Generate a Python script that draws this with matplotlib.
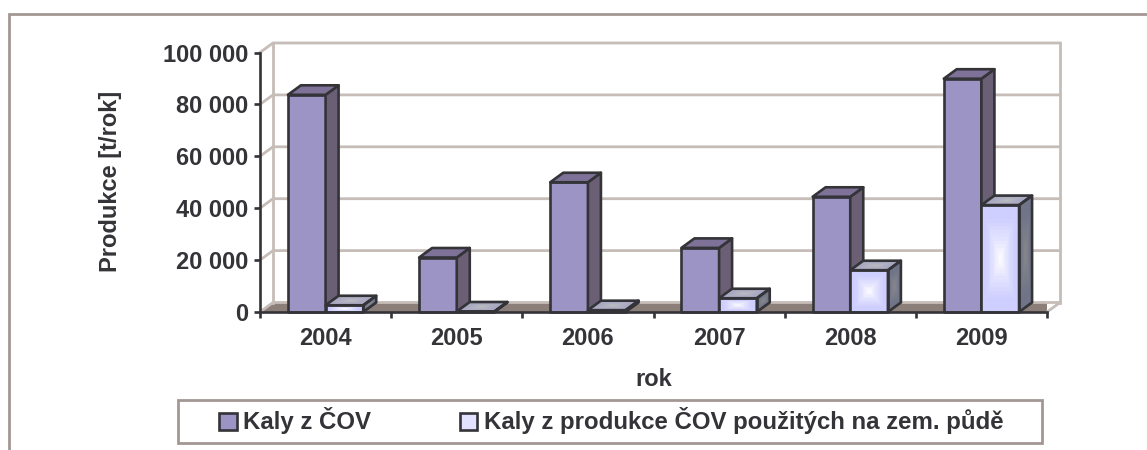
import numpy as np
import matplotlib
matplotlib.use("Agg")
import matplotlib.pyplot as plt
from matplotlib.lines import Line2D
from matplotlib.patches import Polygon, Rectangle, Patch
from matplotlib.colors import to_rgb

years = ["2004", "2005", "2006", "2007", "2008", "2009"]
kaly_cov = [83700, 21000, 50000, 24700, 44400, 89900]
kaly_puda = [2600, 200, 700, 5300, 16100, 41200]
y_ticks = [0, 20000, 40000, 60000, 80000, 100000]
y_tick_labels = ["0", "20 000", "40 000", "60 000", "80 000", "100 000"]
series_names = ["Kaly z ČOV", "Kaly z produkce ČOV použitých na zem. půdě"]

W, H = 1147, 450
plt.rcParams["font.family"] = ["Liberation Sans", "DejaVu Sans"]
plt.rcParams["font.weight"] = "bold"
TXT = "#333338"
EDGE = "#333338"
FS = 17
fig = plt.figure(figsize=(W / 100, H / 100), dpi=100, facecolor="white")
ax = fig.add_axes([260 / W, 1 - 312 / H, (1047 - 260) / W, (312 - 52.5) / H])
ax.set_xlim(0, 6)
ax.set_ylim(0, 100000)
ax.patch.set_visible(False)
for s in ax.spines.values():
    s.set_visible(False)

DX, DY = 13 / (787 / 6), 9.5 / (259.5 / 100000)
BW = 0.287
GRID = "#C6BCB8"
GLW = 2.0
ELW = 1.9

# walls and floor
ax.add_patch(Polygon([(0, 0), (6, 0), (6 + DX, DY), (DX, DY)], closed=True, fc="#8C7F7A", ec="none", zorder=1))
ax.plot([6, 6 + DX], [0, DY], color=GRID, lw=GLW, zorder=1, clip_on=False)
for v in y_ticks:
    ax.plot([0, DX, 6 + DX], [v, v + DY, v + DY], color=GRID, lw=GLW, zorder=1, clip_on=False,
            solid_joinstyle="miter")
ax.plot([DX, DX], [DY, 100000 + DY], color=GRID, lw=GLW, zorder=1, clip_on=False)
ax.plot([6 + DX, 6 + DX], [DY, 100000 + DY], color=GRID, lw=GLW, zorder=1, clip_on=False)


def shaded(corners, outer, inner, z, power=0.8):
    """Quadrilateral with a box gradient, corners: BL, BR, TR, TL."""
    n = 30
    bl, br, tr, tl = [np.array(c, float) for c in corners]
    s, t = np.meshgrid(np.linspace(0, 1, n + 1), np.linspace(0, 1, n + 1))
    X = (1 - t) * ((1 - s) * bl[0] + s * br[0]) + t * ((1 - s) * tl[0] + s * tr[0])
    Y = (1 - t) * ((1 - s) * bl[1] + s * br[1]) + t * ((1 - s) * tl[1] + s * tr[1])
    c = np.linspace(-1, 1, n)
    u, v = np.meshgrid(c, c)
    m = np.clip(np.maximum(abs(u), abs(v)) ** power * 1.25, 0, 1)[..., None]
    C = (1 - m) * np.array(to_rgb(inner)) + m * np.array(to_rgb(outer))
    ax.pcolormesh(X, Y, C, shading="flat", zorder=z, clip_on=False, linewidth=0, rasterized=True)


def bar3d(x0, val, z, front, side, top, grad=False):
    x1 = x0 + BW
    f = [(x0, 0), (x1, 0), (x1, val), (x0, val)]
    sd = [(x1, 0), (x1 + DX, DY), (x1 + DX, val + DY), (x1, val)]
    tp = [(x0, val), (x1, val), (x1 + DX, val + DY), (x0 + DX, val + DY)]
    if grad:
        shaded(f, front[0], front[1], z)
        shaded(sd, side[0], side[1], z)
        shaded(tp, top[0], top[1], z)
        fc = ("none", "none", "none")
    else:
        fc = (front, side, top)
    for pts, c in zip((f, sd, tp), fc):
        ax.add_patch(Polygon(pts, closed=True, fc=c, ec=EDGE, lw=ELW, joinstyle="round",
                             zorder=z + 0.5, clip_on=False))


for i in range(len(years)):
    x0 = i + 0.5 - BW
    bar3d(x0, kaly_cov[i], 2 + i, "#9D94C6", "#6B5F75", "#7F7299")
    bar3d(x0 + BW, kaly_puda[i], 2 + i + 0.7, ("#CFCFFF", "#FFFFFF"), ("#6F7489", "#8A8A8A"),
          ("#A8A8C2", "#BDBDC0"), grad=True)

# axes
ax.plot([0, 0], [0, 100000], color=EDGE, lw=ELW, zorder=20, clip_on=False)
ax.plot([0, 6], [0, 0], color=EDGE, lw=ELW, zorder=20, clip_on=False)
ax.set_xticks(np.arange(0, 7))
ax.set_xticklabels([])
ax.set_xticks(np.arange(6) + 0.5, minor=True)
ax.set_xticklabels(years, minor=True, fontsize=FS, color=TXT, fontweight="bold")
ax.tick_params(axis="x", which="major", length=4.5, width=ELW, color=EDGE)
ax.tick_params(axis="x", which="minor", length=0, pad=11)
ax.set_yticks(y_ticks)
ax.set_yticklabels(y_tick_labels, fontsize=FS, color=TXT, fontweight="bold")
ax.tick_params(axis="y", length=4.5, width=ELW, color=EDGE, pad=4)

fig.text(111 / W, 1 - 181 / H, "Produkce [t/rok]", rotation=90, ha="center", va="center",
         fontsize=FS, color=TXT, fontweight="bold")
fig.text(654 / W, 1 - 380 / H, "rok", ha="center", va="center", fontsize=FS, color=TXT, fontweight="bold")

# outer frame + legend frame
FR = "#A39794"
fig.add_artist(Line2D([9 / W, 9 / W, 1], [0, 1 - 13.5 / H, 1 - 13.5 / H], color=FR, lw=2.0,
                      solid_joinstyle="miter"))
fig.add_artist(Rectangle((178 / W, 1 - 443 / H), (1042 - 178) / W, 43 / H, transform=fig.transFigure,
                         fc="white", ec=FR, lw=2.0))

handles = [Patch(fc="#9D94C6", ec=EDGE, lw=ELW), Patch(fc="#E2E2FF", ec=EDGE, lw=ELW)]
leg = fig.legend(handles, series_names, ncols=2, loc="center", bbox_to_anchor=(611.5 / W, 1 - 421 / H),
                 frameon=False, fontsize=17.3, labelcolor=TXT, handlelength=0.72, handleheight=0.72,
                 handletextpad=0.28, columnspacing=3.7, borderpad=0, borderaxespad=0)

ax.set_xlim(0, 6)
ax.set_ylim(0, 100000)
fig.savefig("out.png", dpi=100, facecolor="white")
